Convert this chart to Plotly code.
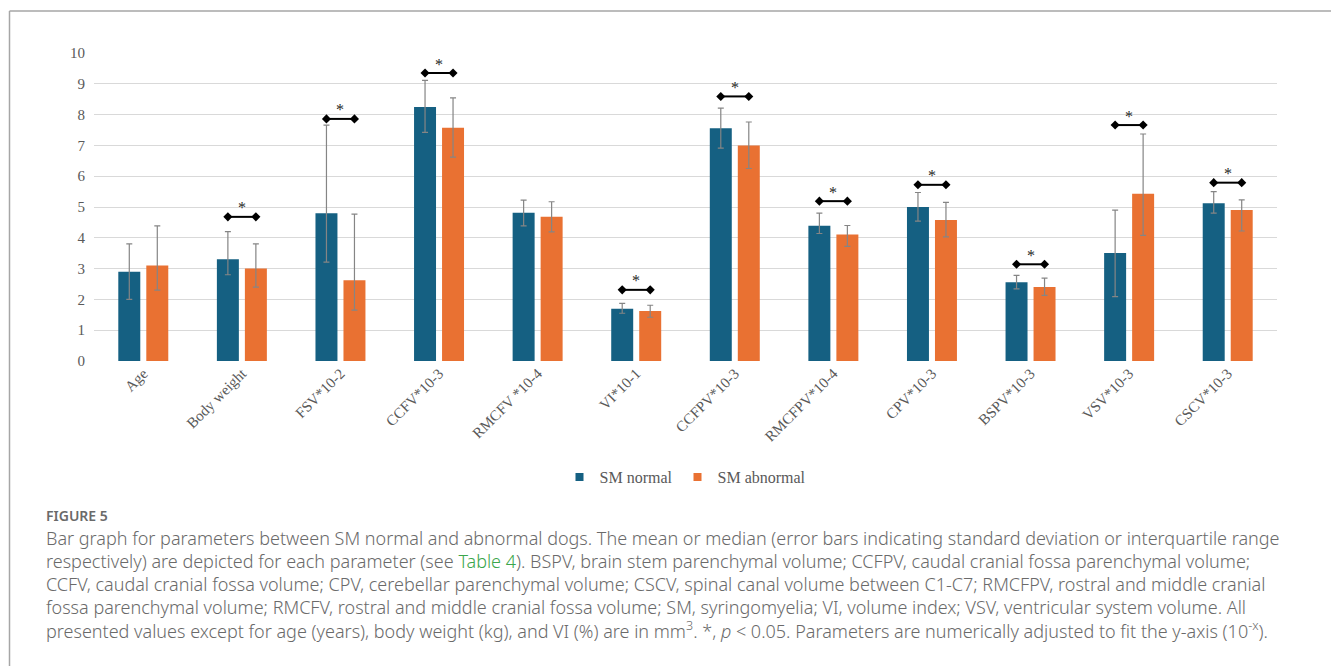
import plotly.graph_objects as go

# Parameters (x-axis categories)
categories = ["Age", "Body weight", "FSV*10-2", "CCFV*10-3", "RMCFV *10-4", "VI*10-1",
              "CCFPV*10-3", "RMCFPV*10-4", "CPV*10-3", "BSPV*10-3", "VSV*10-3", "CSCV*10-3"]

# SM normal: centre value and error-bar limits
normal = [2.9, 3.3, 4.8, 8.25, 4.81, 1.70, 7.56, 4.39, 5.00, 2.56, 3.51, 5.12]
normal_hi = [3.8, 4.2, 7.66, 9.11, 5.22, 1.87, 8.21, 4.80, 5.47, 2.78, 4.90, 5.50]
normal_lo = [2.0, 2.8, 3.21, 7.42, 4.39, 1.55, 6.91, 4.14, 4.54, 2.34, 2.09, 4.80]

# SM abnormal: centre value and error-bar limits
abnormal = [3.1, 3.0, 2.62, 7.57, 4.68, 1.62, 7.00, 4.11, 4.58, 2.40, 5.43, 4.90]
abnormal_hi = [4.39, 3.8, 4.77, 8.54, 5.17, 1.81, 7.76, 4.40, 5.15, 2.69, 7.37, 5.23]
abnormal_lo = [2.30, 2.40, 1.65, 6.62, 4.19, 1.42, 6.25, 3.72, 4.03, 2.13, 4.08, 4.22]

# Height of the significance bracket (None = not significant)
sig_level = [None, 4.68, 7.86, 9.35, None, 2.31, 8.59, 5.19, 5.72, 3.14, 7.66, 5.79]

y_ticks = list(range(0, 11))

caption_title = "FIGURE 5"
caption_lines = [
    "Bar graph for parameters between SM normal and abnormal dogs. The mean or median (error bars indicating standard deviation or interquartile range",
    "respectively) are depicted for each parameter (see <span style='color:#3aa64b'>Table 4</span>). BSPV, brain stem parenchymal volume; CCFPV, caudal cranial fossa parenchymal volume;",
    "CCFV, caudal cranial fossa volume; CPV, cerebellar parenchymal volume; CSCV, spinal canal volume between C1-C7; RMCFPV, rostral and middle cranial",
    "fossa parenchymal volume; RMCFV, rostral and middle cranial fossa volume; SM, syringomyelia; VI, volume index; VSV, ventricular system volume. All",
    "presented values except for age (years), body weight (kg), and VI (%) are in mm<sup>3</sup>. *, <i>p</i> &lt; 0.05. Parameters are numerically adjusted to fit the y-axis (10<sup>-x</sup>).",
]

# ---- geometry ----
W, H = 1331, 666
ML, MR, MT, MB = 94, 54, 53, 305
PW, PH = W - ML - MR, H - MT - MB

def px_x(px):
    return (px - ML) / PW

def px_y(py):
    return 1 - (py - MT) / PH

BLUE = "#156082"
ORANGE = "#E97132"
SHIFT = 0.142
BAR_W = 0.223
SERIF = "Liberation Serif, Times New Roman, serif"
TXT = "#595959"

idx = list(range(len(categories)))

fig = go.Figure()

fig.add_trace(go.Bar(
    name="SM normal", x=[i - SHIFT for i in idx], y=normal, width=BAR_W, showlegend=False,
    marker=dict(color=BLUE, line=dict(width=0)),
    error_y=dict(type="data", symmetric=False,
                 array=[h - v for h, v in zip(normal_hi, normal)],
                 arrayminus=[v - l for v, l in zip(normal, normal_lo)],
                 color="#858585", thickness=1.2, width=3),
))
fig.add_trace(go.Bar(
    name="SM abnormal", x=[i + SHIFT for i in idx], y=abnormal, width=BAR_W, showlegend=False,
    marker=dict(color=ORANGE, line=dict(width=0)),
    error_y=dict(type="data", symmetric=False,
                 array=[h - v for h, v in zip(abnormal_hi, abnormal)],
                 arrayminus=[v - l for v, l in zip(abnormal, abnormal_lo)],
                 color="#858585", thickness=1.2, width=3),
))

# legend entries with small square swatches
for name, col in (("SM normal", BLUE), ("SM abnormal", ORANGE)):
    fig.add_trace(go.Scatter(x=[None], y=[None], mode="markers", name=name,
                             marker=dict(symbol="square", size=8, color=col)))

# significance brackets between the two bars of a group
bx, by = [], []
for i, s in zip(idx, sig_level):
    if s is None:
        continue
    bx += [i - SHIFT, i + SHIFT, None]
    by += [s, s, None]
    fig.add_annotation(x=i, y=s, xref="x", yref="y", text="*", showarrow=False,
                       yshift=9, font=dict(family=SERIF, size=16, color="#262626"))
fig.add_trace(go.Scatter(
    x=bx, y=by, mode="lines+markers", showlegend=False, hoverinfo="skip",
    line=dict(color="black", width=2),
    marker=dict(symbol="diamond", size=7, color="black"),
))

# caption
fig.add_annotation(x=px_x(44), y=px_y(515), xref="paper", yref="paper", text=caption_title,
                   showarrow=False, xanchor="left", yanchor="middle",
                   font=dict(family="Noto Sans", size=14, color="#6a6a6a", weight=600))
for k, line in enumerate(caption_lines):
    fig.add_annotation(x=px_x(44), y=px_y(538 + k * 23), xref="paper", yref="paper", text=line,
                       showarrow=False, xanchor="left", yanchor="middle",
                       font=dict(family="Noto Sans", size=18, color="#6a6a6a", weight=300))

# outer frame (top and left edges visible)
fig.add_shape(type="line", xref="paper", yref="paper", x0=px_x(9.5), x1=px_x(W + 5),
              y0=px_y(11), y1=px_y(11), line=dict(color="#a6a6a6", width=1.5))
fig.add_shape(type="line", xref="paper", yref="paper", x0=px_x(9.5), x1=px_x(9.5),
              y0=px_y(11), y1=px_y(H + 5), line=dict(color="#a6a6a6", width=1.5))

fig.update_layout(
    width=W, height=H,
    margin=dict(l=ML, r=MR, t=MT, b=MB),
    paper_bgcolor="white", plot_bgcolor="white",
    barmode="overlay",
    font=dict(family=SERIF, size=15, color=TXT),
    legend=dict(orientation="h", x=0.5, xanchor="center", y=px_y(477), yanchor="middle",
                font=dict(family=SERIF, size=16, color=TXT), itemwidth=30,
                traceorder="normal"),
    xaxis=dict(range=[-0.5, len(categories) - 0.5], tickmode="array", tickvals=idx,
               ticktext=categories, tickangle=-45, showgrid=False, zeroline=False,
               showline=False, ticks="", tickfont=dict(family=SERIF, size=15, color=TXT)),
    yaxis=dict(range=[0, 10], tickmode="array", tickvals=y_ticks, showgrid=True,
               gridcolor="#d9d9d9", gridwidth=1, zeroline=False, showline=False, ticks="",
               ticklabelstandoff=8,
               tickfont=dict(family=SERIF, size=15, color=TXT)),
)

fig.write_html("out.html")
